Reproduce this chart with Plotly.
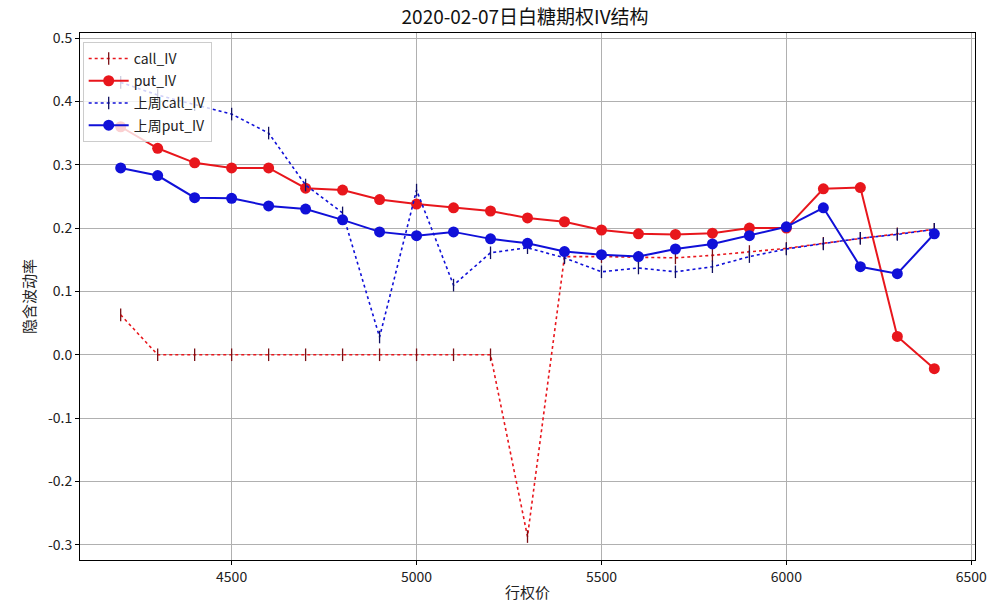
import plotly.graph_objects as go

strikes = [4200, 4300, 4400, 4500, 4600, 4700, 4800, 4900, 5000, 5100, 5200, 5300,
           5400, 5500, 5600, 5700, 5800, 5900, 6000, 6100, 6200, 6300, 6400]

call_iv = [0.063, 0.0, 0.0, 0.0, 0.0, 0.0, 0.0, 0.0, 0.0, 0.0, 0.0, -0.287,
           0.155, 0.155, 0.154, 0.153, 0.157, 0.163, 0.168, 0.176, 0.184, 0.191, 0.198]

put_iv = [0.36, 0.326, 0.303, 0.295, 0.295, 0.263, 0.26, 0.245, 0.238, 0.232, 0.227, 0.216,
          0.21, 0.197, 0.191, 0.19, 0.192, 0.2, 0.2, 0.262, 0.264, 0.029, -0.022]

last_call_iv = [0.43, 0.41, 0.395, 0.38, 0.35, 0.268, 0.224, 0.028, 0.26, 0.11, 0.161, 0.169,
                0.153, 0.131, 0.137, 0.131, 0.139, 0.155, 0.167, 0.175, 0.184, 0.19, 0.198]

last_put_iv = [0.295, 0.283, 0.248, 0.247, 0.235, 0.23, 0.213, 0.194, 0.188, 0.194, 0.183, 0.176,
               0.163, 0.158, 0.155, 0.167, 0.175, 0.188, 0.202, 0.232, 0.139, 0.128, 0.191]

x_ticks = [4500, 5000, 5500, 6000, 6500]
y_ticks = [-0.3, -0.2, -0.1, 0.0, 0.1, 0.2, 0.3, 0.4, 0.5]

RED = "#e8161c"
BLUE = "#1010d8"
FONT = "Noto Sans CJK SC"

fig = go.Figure()
fig.add_trace(go.Scatter(
    x=strikes, y=call_iv, name="call_IV", mode="lines+markers", legendgroup="a",
    line=dict(color=RED, width=1.6, dash="dot"),
    marker=dict(symbol="line-ns", size=9, color=RED, line=dict(color="#7a1015", width=1.3)),
))
fig.add_trace(go.Scatter(
    x=strikes, y=put_iv, name="put_IV", mode="lines+markers", legendgroup="b",
    line=dict(color=RED, width=2),
    marker=dict(symbol="circle", size=11, color=RED),
))
fig.add_trace(go.Scatter(
    x=strikes, y=last_call_iv, name="上周call_IV", mode="lines+markers", legendgroup="c",
    line=dict(color=BLUE, width=1.6, dash="dot"),
    marker=dict(symbol="line-ns", size=9, color=BLUE, line=dict(color="#101060", width=1.3)),
))
fig.add_trace(go.Scatter(
    x=strikes, y=last_put_iv, name="上周put_IV", mode="lines+markers", legendgroup="d",
    line=dict(color=BLUE, width=2),
    marker=dict(symbol="circle", size=11, color=BLUE),
))

fig.update_layout(
    width=987, height=612,
    margin=dict(l=80, r=12, t=33, b=52, autoexpand=False),
    paper_bgcolor="white", plot_bgcolor="white",
    font=dict(family=FONT, size=14, color="#222"),
    title=dict(text="2020-02-07日白糖期权IV结构", x=0.532, xanchor="center",
               y=0.972, yanchor="middle", font=dict(size=19, family=FONT, color="#111")),
    showlegend=True,
    legend=dict(x=0.003, y=0.983, xanchor="left", yanchor="top",
                bgcolor="rgba(255,255,255,0.8)", bordercolor="#cccccc", borderwidth=1,
                font=dict(size=14, family=FONT), tracegroupgap=1, itemwidth=40),
)
fig.update_xaxes(
    range=[4090, 6510], tickvals=x_ticks, ticktext=[str(v) for v in x_ticks],
    showgrid=True, gridcolor="#b0b0b0", gridwidth=1, automargin=False,
    ticklabeloverflow="allow",
    showline=True, linecolor="black", linewidth=1, mirror=True,
    ticks="outside", ticklen=4, tickcolor="black", zeroline=False,
    tickfont=dict(size=14),
    title=dict(text="行权价", font=dict(size=15, family=FONT), standoff=2),
)
fig.update_yaxes(
    range=[-0.324, 0.508], tickvals=y_ticks, ticktext=[f"{v:.1f}" for v in y_ticks],
    showgrid=True, gridcolor="#b0b0b0", gridwidth=1, automargin=False,
    ticklabeloverflow="allow",
    showline=True, linecolor="black", linewidth=1, mirror=True,
    ticks="outside", ticklen=4, tickcolor="black", zeroline=False,
    tickfont=dict(size=14),
    title=dict(text="隐含波动率", font=dict(size=15, family=FONT), standoff=8),
)

fig.write_html("out.html", config={"displayModeBar": False},
               post_script="document.body.style.margin='0px';")
